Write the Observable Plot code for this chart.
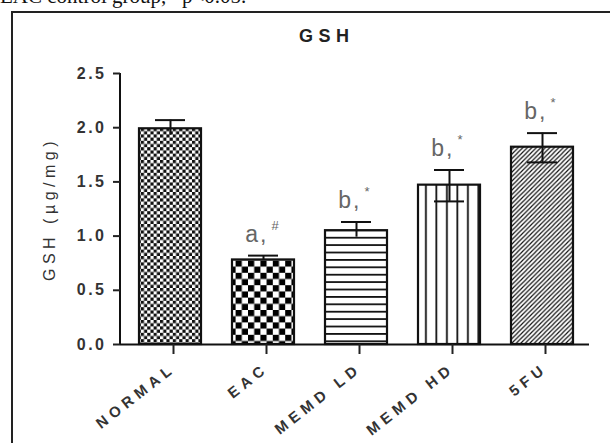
<!DOCTYPE html>
<html><head><meta charset="utf-8">
<script src="https://cdn.jsdelivr.net/npm/d3@7"></script>
<script src="https://cdn.jsdelivr.net/npm/@observablehq/plot@0.6"></script>
<style>
html,body{margin:0;background:#fff;overflow:hidden;}
#wrap{position:relative;width:610px;height:443px;overflow:hidden;font-family:"Liberation Sans",Arial,sans-serif;background:#fff;}
#note{position:absolute;left:0;top:-16px;font-family:"Liberation Serif","Times New Roman",serif;font-size:21px;color:#111;white-space:nowrap;z-index:3}
#frame{position:absolute;left:11px;top:11px;width:1000px;height:1000px;border-left:2px solid #222;border-top:2px solid #222;z-index:2;pointer-events:none}
#title{position:absolute;left:299px;top:26px;font-weight:bold;font-size:18px;letter-spacing:5.5px;color:#222;z-index:3}
#chart{position:absolute;left:0;top:0}
</style></head>
<body>
<div id="wrap">
  <div id="chart"></div>
  <div id="note">EAC control group, *p&lt;0.05.</div>
  <div id="frame"></div>
  <div id="title">GSH</div>
</div>
<script>
const categories = ["NORMAL", "EAC", "MEMD LD", "MEMD HD", "5FU"];
const means = [1.99, 0.78, 1.05, 1.47, 1.82];
const errHigh = [2.07, 0.82, 1.13, 1.61, 1.95];
const errLow = [1.93, 0.78, 0.99, 1.32, 1.68];
const lowerCap = [false, false, false, true, true];
const letters = ["", "a", "b", "b", "b"];
const supers = ["", "#", "*", "*", "*"];
const patterns = ["url(#pNormal)", "url(#pEAC)", "url(#pLD)", "url(#pHD)", "url(#p5FU)"];
const yTicks = [0, 0.5, 1.0, 1.5, 2.0, 2.5];
const yLabel = "GSH (µg/mg)";

const data = categories.map((c, i) => ({
  cat: c, mean: means[i], hi: errHigh[i], lo: errLow[i], cap: lowerCap[i],
  letter: letters[i], sup: supers[i], pattern: patterns[i]
}));

function defsMark() {
  const defs = d3.create("svg:defs");
  let p = defs.append("pattern").attr("id", "pNormal").attr("patternUnits", "userSpaceOnUse").attr("width", 6.4).attr("height", 6.4);
  p.append("rect").attr("width", 6.4).attr("height", 6.4).attr("fill", "#fff");
  p.append("rect").attr("x", 0).attr("y", 0).attr("width", 3.2).attr("height", 3.2).attr("fill", "#111");
  p.append("rect").attr("x", 3.2).attr("y", 3.2).attr("width", 3.2).attr("height", 3.2).attr("fill", "#111");
  p = defs.append("pattern").attr("id", "pEAC").attr("patternUnits", "userSpaceOnUse").attr("width", 12.4).attr("height", 12.4);
  p.append("rect").attr("width", 12.4).attr("height", 12.4).attr("fill", "#fff");
  p.append("rect").attr("x", 0).attr("y", 0).attr("width", 6.2).attr("height", 6.2).attr("fill", "#000");
  p.append("rect").attr("x", 6.2).attr("y", 6.2).attr("width", 6.2).attr("height", 6.2).attr("fill", "#000");
  p = defs.append("pattern").attr("id", "pLD").attr("patternUnits", "userSpaceOnUse").attr("width", 10).attr("height", 7.4);
  p.append("rect").attr("width", 10).attr("height", 7.4).attr("fill", "#fff");
  p.append("rect").attr("x", 0).attr("y", 0).attr("width", 10).attr("height", 1.8).attr("fill", "#111");
  p = defs.append("pattern").attr("id", "pHD").attr("patternUnits", "userSpaceOnUse").attr("width", 10.5).attr("height", 10);
  p.append("rect").attr("width", 10.5).attr("height", 10).attr("fill", "#fff");
  p.append("rect").attr("x", 5).attr("y", 0).attr("width", 1.8).attr("height", 10).attr("fill", "#111");
  p = defs.append("pattern").attr("id", "p5FU").attr("patternUnits", "userSpaceOnUse").attr("width", 4.5).attr("height", 4.5);
  p.append("rect").attr("width", 4.5).attr("height", 4.5).attr("fill", "#fff");
  p.append("path").attr("d", "M-1,1 l2,-2 M0,4.5 l4.5,-4.5 M3.5,5.5 l2,-2").attr("stroke", "#111").attr("stroke-width", 1.2);
  return defs.node();
}

function yAxisLine(index, scales, values, dims) {
  return d3.create("svg:line")
    .attr("x1", dims.marginLeft).attr("x2", dims.marginLeft)
    .attr("y1", scales.y(yTicks[yTicks.length - 1])).attr("y2", scales.y(0))
    .attr("stroke", "#111").attr("stroke-width", 2).node();
}

const chart = Plot.plot({
  width: 610, height: 443,
  marginLeft: 120, marginRight: 21, marginTop: 73, marginBottom: 99,
  style: {background: "transparent", fontFamily: "Liberation Sans, Arial, sans-serif", color: "#222"},
  x: {domain: categories, range: [122, 589], paddingInner: 0.335, paddingOuter: 0.1675, label: null},
  y: {domain: [0, 2.5], label: null},
  color: {type: "identity"},
  marks: [
    defsMark,
    Plot.barY(data, {x: "cat", y: "mean", fill: "pattern", stroke: "#111", strokeWidth: 2.2}),
    Plot.ruleX(data, {x: "cat", y1: "lo", y2: "hi", stroke: "#111", strokeWidth: 2}),
    Plot.tickY(data, {x: "cat", y: "hi", stroke: "#111", strokeWidth: 2, inset: 16}),
    Plot.tickY(data.filter(d => d.cap), {x: "cat", y: "lo", stroke: "#111", strokeWidth: 2, inset: 16}),
    Plot.text(data.filter(d => d.letter), {x: "cat", y: "hi", text: d => d.letter + ",", textAnchor: "end", dx: 5, dy: -14, lineAnchor: "bottom", fontSize: 23, fill: "#666"}),
    Plot.text(data.filter(d => d.sup), {x: "cat", y: "hi", text: "sup", textAnchor: "start", dx: 8, dy: -35, lineAnchor: "top", fontSize: 13, fill: "#666"}),
    Plot.ruleY([0], {stroke: "#111", strokeWidth: 2}),
    yAxisLine,
    Plot.axisY({ticks: yTicks, tickFormat: d3.format(".1f"), tickSize: 7, tickPadding: 7, strokeWidth: 2, fontSize: 16, fontWeight: "bold", fill: "#333", label: null}),
    Plot.text([yLabel], {frameAnchor: "left", textAnchor: "middle", text: d => d, rotate: -90, dx: -71, fontSize: 16, fill: "#333"}),
    Plot.axisX({tickSize: 10, tickRotate: -38, tickPadding: 12, dx: 3, strokeWidth: 2, fontSize: 15, fontWeight: "bold", fill: "#333", label: null})
  ]
});
const sel = d3.select(chart);
const tickStrs = yTicks.map(d3.format(".1f"));
sel.selectAll("text").each(function() {
  const t = this.textContent;
  const s = d3.select(this);
  if (t === yLabel) s.style("letter-spacing", "4.5px").style("font-size", "16px");
  else if (categories.includes(t)) s.style("letter-spacing", "5px").style("font-size", "15px");
  else if (tickStrs.includes(t)) s.style("letter-spacing", "2.5px").style("font-size", "16px");
  else if (/^[ab],$/.test(t)) s.style("letter-spacing", "2px");
});
document.getElementById("chart").appendChild(chart);
</script>
</body></html>
